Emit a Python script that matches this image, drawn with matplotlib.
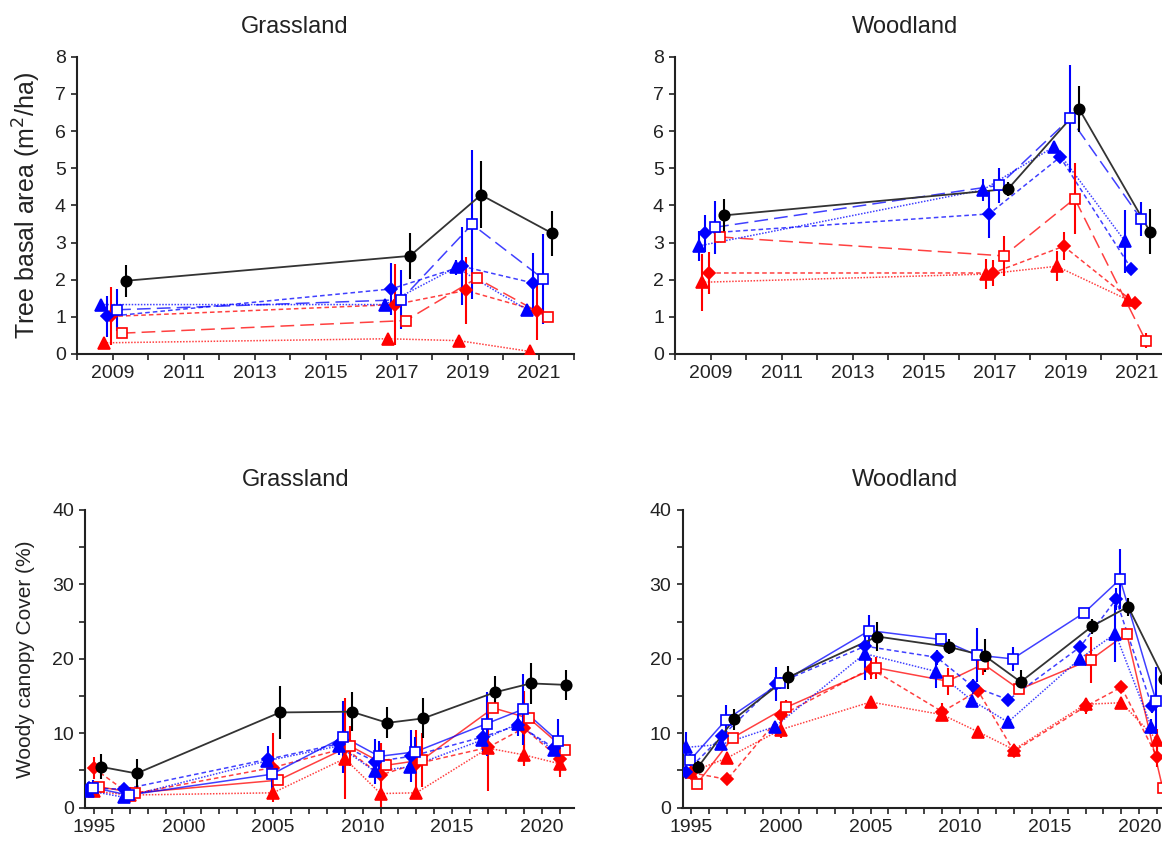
import numpy as np
import matplotlib
matplotlib.use('Agg')
from matplotlib import pyplot as plt

plt.rcParams['font.family'] = ['Liberation Sans', 'DejaVu Sans']

# Top row: tree basal area (m2/ha), survey years
ba_years = [2009, 2017, 2019, 2021]

ba_grass = {
    'ctrl':     ([1.97, 2.64, 4.28, 3.25], [0.43, 0.61, 0.90, 0.61]),
    'blue_tri': ([1.33, 1.33, 2.33, 1.19], [0.15, 0.15, 0.20, 0.10]),
    'blue_dia': ([1.01, 1.75, 2.36, 1.91], [0.54, 0.70, 1.05, 0.80]),
    'blue_sq':  ([1.19, 1.46, 3.49, 2.02], [0.56, 0.80, 2.00, 1.20]),
    'red_tri':  ([0.30, 0.41, 0.36, 0.07], [0.08, 0.08, 0.08, 0.05]),
    'red_dia':  ([1.01, 1.33, 1.71, 1.17], [0.78, 1.10, 0.90, 0.80]),
    'red_sq':   ([0.56, 0.90, 2.04, 0.99], [0.08, 0.08, 0.08, 0.08]),
}

ba_wood = {
    'ctrl':     ([3.73, 4.44, 6.60, 3.29], [0.45, 0.20, 0.62, 0.60]),
    'blue_tri': ([2.91, 4.42, 5.58, 3.03], [0.40, 0.30, 0.15, 0.85]),
    'blue_dia': ([3.25, 3.77, 5.30, 2.30], [0.50, 0.64, 0.10, 0.10]),
    'blue_sq':  ([3.41, 4.54, 6.34, 3.63], [0.72, 0.47, 1.45, 0.45]),
    'red_tri':  ([1.93, 2.15, 2.36, 1.46], [0.76, 0.40, 0.40, 0.10]),
    'red_dia':  ([2.18, 2.18, 2.90, 1.37], [0.57, 0.35, 0.37, 0.10]),
    'red_sq':   ([3.15, 2.64, 4.18, 0.36], [0.10, 0.53, 0.95, 0.20]),
}

# Bottom row: woody canopy cover (%)
cc_years_grass = [1995, 1997, 2005, 2009, 2011, 2013, 2017, 2019, 2021]
cc_years_wood = [1995, 1997, 2000, 2005, 2009, 2011, 2013, 2017, 2019, 2021]

cc_grass = {
    'ctrl':     ([5.5, 4.6, 12.8, 12.9, 11.4, 12.0, 15.5, 16.7, 16.5],
                 [1.7, 1.9, 3.6, 2.6, 2.1, 2.7, 2.2, 2.7, 2.0]),
    'blue_tri': ([2.3, 1.4, 6.3, 8.3, 4.9, 5.5, 9.1, 11.3, 7.7],
                 [0.5, 0.5, 0.8, 0.8, 0.8, 0.8, 0.8, 0.8, 0.6]),
    'blue_dia': ([2.6, 2.5, 6.5, 8.6, 6.2, 6.9, 9.5, 11.1, 8.0],
                 [0.6, 0.6, 1.8, 1.5, 3.0, 3.5, 2.0, 1.5, 1.0]),
    'blue_sq':  ([2.7, 1.7, 4.5, 9.5, 6.9, 7.5, 11.3, 13.2, 8.9],
                 [1.0, 0.8, 2.5, 4.8, 2.0, 2.0, 4.3, 4.8, 3.0]),
    'red_tri':  ([2.2, 1.7, 2.0, 6.6, 1.9, 2.0, 8.0, 7.1, 5.9],
                 [0.5, 0.5, 1.0, 0.8, 0.8, 0.8, 0.8, 1.5, 1.2]),
    'red_dia':  ([5.3, 1.8, 5.4, 8.0, 4.4, 5.9, 8.1, 10.7, 6.6],
                 [1.5, 1.0, 4.7, 6.8, 4.3, 4.5, 5.8, 5.0, 2.5]),
    'red_sq':   ([2.8, 2.0, 3.7, 8.3, 5.7, 6.4, 13.4, 12.0, 7.8],
                 [0.4, 0.4, 0.4, 2.7, 0.5, 3.6, 0.5, 0.5, 0.4]),
}

cc_wood = {
    'ctrl':     ([5.5, 11.9, 17.5, 23.0, 21.6, 20.4, 16.9, 24.4, 27.0, 17.3],
                 [0.8, 1.4, 1.6, 2.0, 1.0, 2.2, 1.6, 1.0, 1.2, 1.5]),
    'blue_tri': ([8.1, 8.5, 10.9, 20.7, 18.3, 14.4, 11.5, 20.0, 23.4, 10.9],
                 [2.1, 0.8, 0.5, 3.5, 2.2, 0.8, 0.5, 0.8, 3.8, 1.0]),
    'blue_dia': ([4.8, 9.6, 16.6, 21.7, 20.2, 16.3, 14.5, 21.6, 28.0, 13.7],
                 [0.5, 0.8, 2.3, 1.0, 1.0, 1.0, 0.5, 0.8, 1.5, 1.0]),
    'blue_sq':  ([6.4, 11.8, 16.7, 23.8, 22.6, 20.5, 20.0, 26.2, 30.7, 14.4],
                 [0.8, 2.0, 0.8, 2.1, 0.5, 3.6, 1.6, 0.6, 4.0, 4.5]),
    'red_tri':  ([4.8, 6.7, 10.5, 14.2, 12.5, 10.2, 7.8, 13.9, 14.1, 9.1],
                 [0.5, 0.5, 1.2, 0.7, 0.7, 0.5, 0.6, 0.7, 0.5, 1.5]),
    'red_dia':  ([4.7, 3.8, 12.4, 18.7, 12.9, 15.7, 7.6, 13.6, 16.2, 6.8],
                 [0.8, 0.5, 1.8, 1.4, 1.2, 0.5, 0.8, 1.0, 0.5, 1.3]),
    'red_sq':   ([3.2, 9.4, 13.5, 18.8, 17.0, 19.3, 15.9, 19.9, 23.4, 2.7],
                 [0.5, 0.5, 1.0, 1.5, 1.8, 1.5, 0.6, 3.1, 0.5, 0.5]),
}

# marker / colour / line style per treatment
styles = {
    'blue_tri': dict(color='#0000ff', marker='^', ms=8, fill=True, ls=(0, (1, 1))),
    'red_tri':  dict(color='#ff0000', marker='^', ms=8, fill=True, ls=(0, (1, 1))),
    'blue_dia': dict(color='#0000ff', marker='D', ms=6.5, fill=True, ls=(0, (3, 2))),
    'red_dia':  dict(color='#ff0000', marker='D', ms=6.5, fill=True, ls=(0, (3, 2))),
    'blue_sq':  dict(color='#0000ff', marker='s', ms=6.5, fill=False, ls=(0, (9, 4))),
    'red_sq':   dict(color='#ff0000', marker='s', ms=6.5, fill=False, ls=(0, (9, 4))),
    'ctrl':     dict(color='black', marker='o', ms=7.5, fill=True, ls='-'),
}

# small horizontal jitter so error bars don't overlap
jit_top = {'blue_tri': -0.32, 'red_tri': -0.25, 'blue_dia': -0.15, 'red_dia': -0.05,
           'blue_sq': 0.13, 'red_sq': 0.26, 'ctrl': 0.38}
jit_bot = {'blue_tri': -0.33, 'blue_dia': -0.30, 'blue_sq': -0.07, 'red_tri': 0.0,
           'red_dia': 0.0, 'red_sq': 0.30, 'ctrl': 0.38}

order = ['red_tri', 'red_dia', 'red_sq', 'blue_tri', 'blue_dia', 'blue_sq', 'ctrl']


def draw_panel(ax, years, data, jit, solid_squares=False):
    for key in order:
        st = styles[key]
        vals, errs = data[key]
        x = np.array(years) + jit[key]
        ls = st['ls']
        if solid_squares and key in ('blue_sq', 'red_sq'):
            ls = '-'
        if key == 'ctrl':
            ax.plot(x, vals, color='#333333', lw=1.3, ls='-', zorder=3)
        else:
            ax.plot(x, vals, color=st['color'], lw=1.1, ls=ls, alpha=0.75, zorder=2)
        ax.errorbar(x, vals, yerr=errs, fmt='none', ecolor=st['color'],
                    elinewidth=1.5, capsize=0, zorder=3)
        ax.plot(x, vals, ls='none', marker=st['marker'], ms=st['ms'],
                mfc=st['color'] if st['fill'] else 'white', mec=st['color'],
                mew=1.2, zorder=4)


def style_axes(ax):
    for s in ['top', 'right']:
        ax.spines[s].set_visible(False)
    for s in ['left', 'bottom']:
        ax.spines[s].set_linewidth(1.5)
        ax.spines[s].set_color('#222222')
    ax.tick_params(direction='out', length=4, width=1.2, labelsize=14,
                   colors='#222222', pad=4)


fig = plt.figure(figsize=(11.62, 8.41), dpi=100)
W, H = 1162.0, 841.0

ax_tl = fig.add_axes([77 / W, 1 - 354 / H, 497 / W, 297.3 / H])
ax_tr = fig.add_axes([675 / W, 1 - 354 / H, 497 / W, 297.3 / H])
ax_bl = fig.add_axes([85 / W, 1 - 807.7 / H, 489 / W, 297.7 / H])
ax_br = fig.add_axes([682.5 / W, 1 - 807.7 / H, 489 / W, 297.7 / H])

draw_panel(ax_tl, ba_years, ba_grass, jit_top)
draw_panel(ax_tr, ba_years, ba_wood, jit_top)
draw_panel(ax_bl, cc_years_grass, cc_grass, jit_bot, solid_squares=True)
draw_panel(ax_br, cc_years_wood, cc_wood, jit_bot, solid_squares=True)

top_ticks = list(range(2008, 2023))
top_labels = [str(y) if y % 2 == 1 else '' for y in top_ticks]
bot_ticks = list(range(1995, 2022))
bot_labels = [str(y) if y % 5 == 0 else '' for y in bot_ticks]

for ax in (ax_tl, ax_tr):
    style_axes(ax)
    ax.set_xlim(2008, 2022)
    ax.set_ylim(0, 8)
    ax.set_xticks(top_ticks)
    ax.set_xticklabels(top_labels)
    ax.set_yticks(range(0, 9))

for ax in (ax_bl, ax_br):
    style_axes(ax)
    ax.set_xlim(1994.5, 2021.8)
    ax.set_ylim(0, 40)
    ax.set_xticks(bot_ticks)
    ax.set_xticklabels(bot_labels)
    ax.set_yticks(range(0, 41, 5))
    ax.set_yticklabels([str(v) if v % 10 == 0 else '' for v in range(0, 41, 5)])

ax_tl.set_ylabel('Tree basal area (m$^2$/ha)', fontsize=18, color='#222222')
ax_tl.yaxis.set_label_coords(-34 / 497, 0.5)
ax_bl.set_ylabel('Woody canopy Cover (%)', fontsize=15, color='#222222')
ax_bl.yaxis.set_label_coords(-50 / 489, 0.5)

titles = [(ax_tl, 'Grassland', 0.439), (ax_tr, 'Woodland', 0.463),
          (ax_bl, 'Grassland', 0.430), (ax_br, 'Woodland', 0.455)]
for ax, t, xf in titles:
    ax.text(xf, 1 + 30 / 297.5, t, transform=ax.transAxes, ha='center',
            va='center', fontsize=17, color='#222222')

plt.savefig('out.png', dpi=100)
